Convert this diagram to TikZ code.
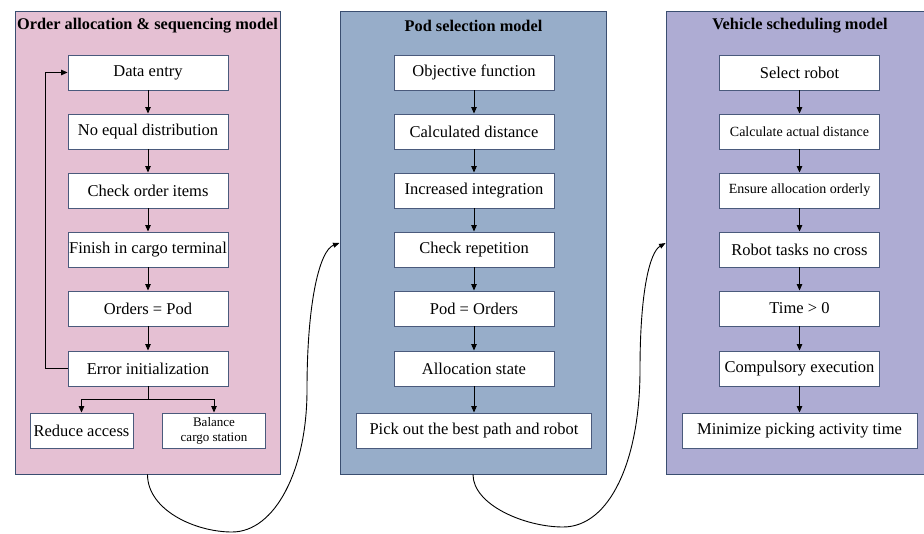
\documentclass[tikz,border=0pt]{standalone}
\usepackage{fontspec}
\setmainfont{Liberation Serif}
\usetikzlibrary{arrows.meta}
\definecolor{pinkpanel}{HTML}{E5C0D3}
\definecolor{bluepanel}{HTML}{97ADC9}
\definecolor{lilacpanel}{HTML}{AEACD3}
\definecolor{edge}{HTML}{3A4E70}
\definecolor{boxedge}{HTML}{4A5A7C}
\tikzset{
  panel/.style={draw=edge, line width=0.9pt, inner sep=0pt, minimum height=463pt},
  paneltitle/.style={font=\fontsize{16.3}{18}\selectfont\bfseries, inner sep=0pt},
  stepbox/.style={draw=boxedge, line width=0.9pt, fill=white, inner sep=0pt,
    minimum height=35pt, minimum width=160pt, align=center,
    font=\fontsize{16.5}{18}\selectfont},
  smalltext/.style={font=\fontsize{14}{16}\selectfont},
  flow/.style={line width=0.9pt, -{Triangle[length=6.5pt,width=5.5pt]}},
  link/.style={line width=0.9pt, -{Triangle[length=6.5pt,width=5pt]}}
}
\begin{document}
\begin{tikzpicture}[x=1pt,y=-1pt]
\useasboundingbox (0,0) rectangle (924,534);

% three model panels
\node[panel, fill=pinkpanel, minimum width=265pt] (P1) at (147.5,242.5) {};
\node[panel, fill=bluepanel, minimum width=266pt] (P2) at (473,242.5) {};
\node[panel, fill=lilacpanel, minimum width=267pt] (P3) at (799.5,242.5) {};

\node[paneltitle] (T1) at (147.5,26) {Order allocation \& sequencing model};
\node[paneltitle] (T2) at (473.5,26) {Pod selection model};
\node[paneltitle] (T3) at (800,26) {Vehicle scheduling model};

% order allocation & sequencing
\node[stepbox] (a1) at (148,72.5) {Data entry};
\node[stepbox] (a2) at (148,131.5) {No equal distribution};
\node[stepbox] (a3) at (148,190.5) {Check order items};
\node[stepbox] (a4) at (148,249.5) {Finish in cargo terminal};
\node[stepbox] (a5) at (148,308.5) {Orders = Pod};
\node[stepbox] (a6) at (148,368.5) {Error initialization};
\node[stepbox, minimum width=103pt] (b1) at (81.5,430.5) {Reduce access};
\node[stepbox, minimum width=103pt, font=\fontsize{13}{15}\selectfont] (b2) at (214,430.5) {Balance\\cargo station};

\foreach \u/\v in {a1/a2,a2/a3,a3/a4,a4/a5,a5/a6}
  \draw[flow] (\u) -- (\v);
\draw[flow] (a6.west) -- ++(-22.3,0) |- (a1.west);
\coordinate (fork) at (148,399.5);
\draw[line width=0.9pt] (a6.south) -- (fork);
\draw[flow] (fork) -| (b1.north);
\draw[flow] (fork) -| (b2.north);

% pod selection
\node[stepbox] (p1) at (474,72.5) {Objective function};
\node[stepbox] (p2) at (474,131.5) {Calculated distance};
\node[stepbox] (p3) at (474,190.5) {Increased integration};
\node[stepbox] (p4) at (474,249.5) {Check repetition};
\node[stepbox] (p5) at (474,308.5) {Pod = Orders};
\node[stepbox] (p6) at (474,368.5) {Allocation state};
\node[stepbox, minimum width=235pt] (p7) at (474,430.5) {Pick out the best path and robot};
\foreach \u/\v in {p1/p2,p2/p3,p3/p4,p4/p5,p5/p6,p6/p7}
  \draw[flow] (\u) -- (\v);

% vehicle scheduling
\node[stepbox] (v1) at (799.5,72.5) {Select robot};
\node[stepbox, smalltext] (v2) at (799.5,131.5) {Calculate actual distance};
\node[stepbox, smalltext] (v3) at (799.5,190.5) {Ensure allocation orderly};
\node[stepbox] (v4) at (799.5,249.5) {Robot tasks no cross};
\node[stepbox] (v5) at (799.5,308.5) {Time > 0};
\node[stepbox] (v6) at (799.5,368.5) {Compulsory execution};
\node[stepbox, minimum width=235pt] (v7) at (799.5,430.5) {Minimize picking activity time};
\foreach \u/\v in {v1/v2,v2/v3,v3/v4,v4/v5,v5/v6,v6/v7}
  \draw[flow] (\u) -- (\v);

% links between the models
\coordinate (in2) at (P2.west |- 0,243);
\coordinate (in3) at (P3.west |- 0,243);
\draw[link] (P1.south) .. controls (147.5,510) and (195,532) .. (232,532)
  .. controls (275,532) and (307,470) .. (307,390)
  .. controls (307,300) and (320,250) .. (in2);
\draw[link] (P2.south) .. controls (473,505) and (525,527) .. (563,527)
  .. controls (610,527) and (640,460) .. (640,370)
  .. controls (640,290) and (650,252) .. (in3);
\end{tikzpicture}
\end{document}
